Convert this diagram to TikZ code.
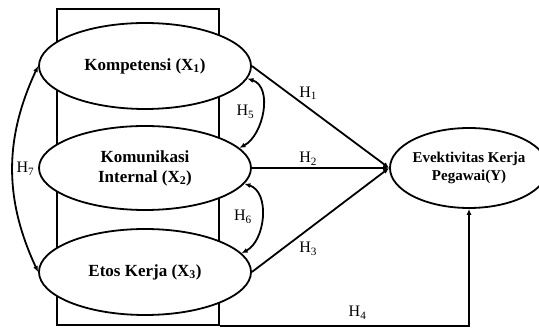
\documentclass[tikz,border=0pt]{standalone}
\usepackage{fontspec}
\setmainfont{Liberation Serif}
\usetikzlibrary{shapes.geometric, arrows.meta}
\tikzset{
    variabel/.style = {draw, ellipse, line width = 1.8pt, fill = white, align = center, font = \fontsize{17}{20}\selectfont\bfseries, minimum width = 212pt, minimum height = 86pt},
    hipotesis/.style = {font = \fontsize{16}{18}\selectfont, inner sep = 2pt},
    panah/.style = {-{Latex[length=6pt, width=5pt]}, line width = 1.8pt},
    panahdua/.style = {{Latex[length=6pt, width=5pt]}-{Latex[length=6pt, width=5pt]}, line width = 1.8pt}
}

\begin{document}
\begin{tikzpicture}[x = 1pt, y = 1pt]
    \pgfmathsetmacro{\xkiri}{145}
    \pgfmathsetmacro{\xkanan}{469}
    \pgfmathsetmacro{\ysatu}{263}
    \pgfmathsetmacro{\ydua}{161}
    \pgfmathsetmacro{\ytiga}{57}
    \useasboundingbox (0,0) rectangle (539,329);
    % Kotak
    \node[draw, line width = 2.5pt, minimum width = 162pt, minimum height = 316pt] (kotak) at (138,162) {};
    % Variabel
    \node[variabel] (kom) at (\xkiri,\ysatu) {Kompetensi (X\textsubscript{1})};
    \node[variabel, minimum height = 84pt] (kmi) at (\xkiri,\ydua) {Komunikasi\\Internal (X\textsubscript{2})};
    \node[variabel] (etos) at (\xkiri,\ytiga) {Etos Kerja (X\textsubscript{3})};
    \node[variabel, font = \fontsize{15}{18}\selectfont\bfseries, inner xsep = -8pt, minimum width = 158pt, minimum height = 80pt] (ekp) at (\xkanan,\ydua) {Evektivitas Kerja\\Pegawai(Y)};
    % Panah
    \draw[panah] (kom.east) -- (ekp.west) node[hipotesis, pos = 0.41, above = 5pt] (h1) {H\textsubscript{1}};
    \draw[panah] (kmi.east) -- (ekp.west) node[hipotesis, pos = 0.41, above = 0pt] (h2) {H\textsubscript{2}};
    \draw[panah] (etos.east) -- (ekp.west) node[hipotesis, pos = 0.41, below = 10pt] (h3) {H\textsubscript{3}};
    \draw[panah] (kotak.south east) -| (ekp.south) node[hipotesis, pos = 0.276, above = 4pt] (h4) {H\textsubscript{4}};
    \draw[panahdua] (kom.-7) to[out = -18, in = 28] node[hipotesis, pos = 0.5, left = 5pt] (h5) {H\textsubscript{5}} (kmi.12);
    \draw[panahdua] (kmi.-9) to[out = -18, in = 28] node[hipotesis, pos = 0.5, left = 7pt] (h6) {H\textsubscript{6}} (etos.11);
    \draw[panahdua] (kom.west) to[out = 245, in = 115] node[hipotesis, pos = 0.5, right = 1pt] (h7) {H\textsubscript{7}} (etos.west);
\end{tikzpicture}
\end{document}
